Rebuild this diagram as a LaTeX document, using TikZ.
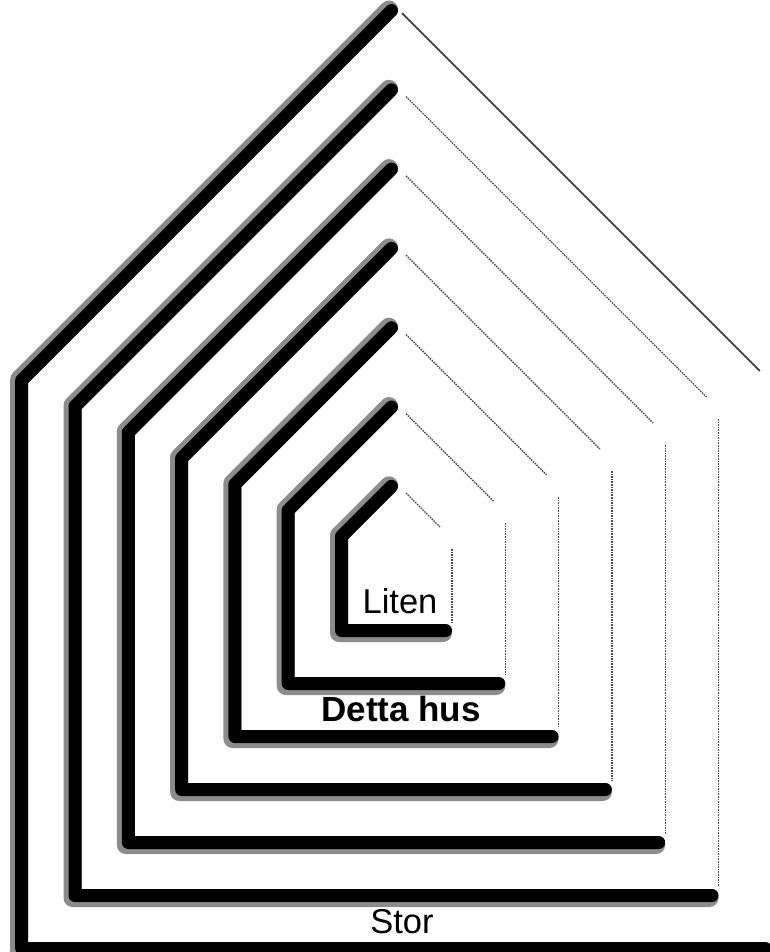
\documentclass[tikz,border=0pt]{standalone}
\usepackage{fontspec}
\setsansfont{Liberation Sans}
\begin{document}
\begin{tikzpicture}[x=1pt,y=-1pt,
  front/.style={line width=13pt, line cap=round, line join=round, black},
  blur/.style={line width=18pt, line cap=round, line join=round, black!45},
  rear/.style={line width=1.4pt, black!70, dash pattern=on 1.6pt off 1pt},
  rearouter/.style={line width=1.8pt, black!75},
  txt/.style={font=\sffamily\fontsize{34.5}{35}\selectfont, anchor=base},
  txtbold/.style={font=\sffamily\bfseries\fontsize{35}{35}\selectfont, anchor=base}
]
\useasboundingbox (0,0) rectangle (769,952);
% seven nested houses, innermost first
\foreach \k in {0,...,6}{
  \pgfmathsetmacro\hw{52+53.3*\k}
  \pgfmathsetmacro\ey{539-26*\k}
  \pgfmathsetmacro\by{624+53*\k}
  \pgfmathsetmacro\ay{\ey-\hw}
  \pgfmathsetmacro\lx{400-\hw}
  \pgfmathsetmacro\rx{400+\hw}
  % heavy left and bottom sides
  \foreach \off/\sty in {9/blur,6.5/front}{
    \draw[\sty] (400-\off-2, \ay+2-0.414*\off) -- (\lx-\off, \ey-0.414*\off)
      -- (\lx-\off, \by+\off) -- (\rx-\off, \by+\off);
  }
  % faint right sides
  \ifnum\k=6
    \draw[rearouter] (402, \ay+2) -- (\rx-12, \ey-12);
  \else
    \draw[rear] (406, \ay+6) -- (\rx-12, \ey-12);
    \draw[rear] (\rx, \ey+10) -- (\rx, \by-2);
  \fi
}
\node[txt] (liten) at (400,613) {Liten};
\node[txtbold] (detta) at (401,721) {Detta hus};
\node[txt] (stor) at (402,933) {Stor};
\end{tikzpicture}
\end{document}
